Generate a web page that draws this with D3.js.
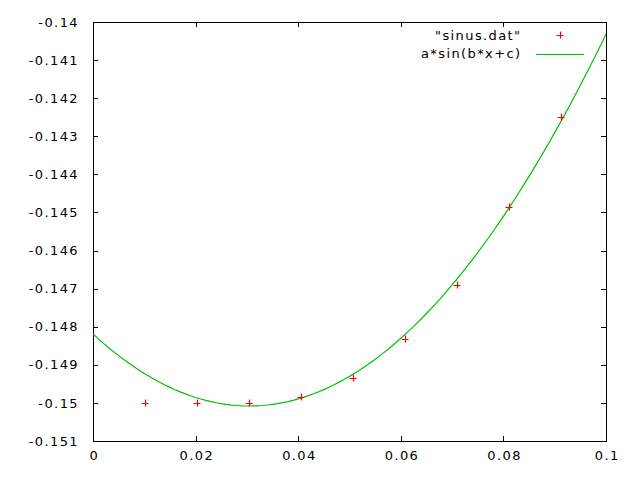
<!DOCTYPE html>
<html>
<head>
<meta charset="utf-8">
<script src="https://cdn.jsdelivr.net/npm/d3@7"></script>
<style>
  html, body { margin: 0; padding: 0; background: #fff; }
  svg { display: block; }
  text { font-family: "DejaVu Sans", sans-serif; font-size: 13px; fill: #000; letter-spacing: 1.4px; }
</style>
</head>
<body>
<script>
// Data points read from "sinus.dat"
const xValues = [0.0101, 0.0203, 0.0304, 0.0405, 0.0507, 0.0608, 0.0709, 0.0811, 0.0912];
const yValues = [-0.15001, -0.14999, -0.15001, -0.149837, -0.149354, -0.14833, -0.146913, -0.144849, -0.142486];

// Fitted parameters of a*sin(b*x+c)
const fitA = 0.150081;
const fitB = 5.2154;
const fitC = -1.7297;

// Axis ticks
const xTicks = [0, 0.02, 0.04, 0.06, 0.08, 0.1];
const yTicks = [-0.14, -0.141, -0.142, -0.143, -0.144, -0.145, -0.146, -0.147, -0.148, -0.149, -0.15, -0.151];
const xTickLabels = ["0", "0.02", "0.04", "0.06", "0.08", "0.1"];
const yTickLabels = ["-0.14", "-0.141", "-0.142", "-0.143", "-0.144", "-0.145", "-0.146", "-0.147", "-0.148", "-0.149", "-0.15", "-0.151"];

const legendLabels = ["\"sinus.dat\"", "a*sin(b*x+c)"];

const W = 640, H = 480;
const mLeft = 93, mRight = 606, mTop = 22, mBottom = 441;

const svg = d3.select("body").append("svg").attr("width", W).attr("height", H);

const x = d3.scaleLinear().domain([0, 0.1]).range([mLeft, mRight]);
const y = d3.scaleLinear().domain([-0.151, -0.14]).range([mBottom, mTop]);

svg.append("clipPath").attr("id", "clip").append("rect")
  .attr("x", mLeft).attr("y", mTop).attr("width", mRight - mLeft).attr("height", mBottom - mTop);

const tickLen = 5;

const gx = svg.append("g").attr("transform", `translate(0,${mBottom})`)
  .call(d3.axisBottom(x).tickValues(xTicks).tickSize(-tickLen).tickPadding(10)
    .tickFormat((d, i) => xTickLabels[i]));
const gxTop = svg.append("g").attr("transform", `translate(0,${mTop})`)
  .call(d3.axisTop(x).tickValues(xTicks).tickSize(-tickLen).tickFormat(""));
const gy = svg.append("g").attr("transform", `translate(${mLeft},0)`)
  .call(d3.axisLeft(y).tickValues(yTicks).tickSize(-tickLen).tickPadding(14)
    .tickFormat((d, i) => yTickLabels[i]));
const gyR = svg.append("g").attr("transform", `translate(${mRight},0)`)
  .call(d3.axisRight(y).tickValues(yTicks).tickSize(-tickLen).tickFormat(""));

[gx, gxTop, gy, gyR].forEach(g => {
  g.select(".domain").remove();
  g.selectAll("line").attr("stroke", "#000").attr("stroke-width", 1).attr("shape-rendering", "crispEdges");
  g.selectAll("text").attr("font-family", null).attr("font-size", null).attr("fill", "#000");
});
gx.selectAll("text").attr("dx", "0.7px");

svg.append("rect").attr("x", mLeft + 0.5).attr("y", mTop + 0.5)
  .attr("width", mRight - mLeft).attr("height", mBottom - mTop)
  .attr("fill", "none").attr("stroke", "#000").attr("stroke-width", 1)
  .attr("shape-rendering", "crispEdges");

const samples = d3.range(0, 101).map(i => 0.1 * i / 100);
const line = d3.line().x(d => x(d)).y(d => y(fitA * Math.sin(fitB * d + fitC)));
svg.append("path").datum(samples).attr("clip-path", "url(#clip)")
  .attr("d", line).attr("fill", "none").attr("stroke", "#00c000").attr("stroke-width", 1.2);

const ps = 3.5;
const pts = svg.append("g").attr("stroke", "#ff0000").attr("stroke-width", 1.2);
xValues.forEach((xv, i) => {
  const cx = Math.round(x(xv)), cy = Math.round(y(yValues[i]));
  pts.append("path").attr("d", `M${cx - ps},${cy + 0.5}H${cx + ps}M${cx + 0.5},${cy - ps}V${cy + ps}`);
});

const legX = 521.5;
const leg = svg.append("g");
leg.append("text").attr("x", legX).attr("y", 35).attr("text-anchor", "end").attr("dy", "0.35em").text(legendLabels[0]);
leg.append("path").attr("d", `M${560 - ps},35.5H${560 + ps}M560.5,${35 - ps}V${35 + ps}`)
  .attr("stroke", "#ff0000").attr("stroke-width", 1.2);
leg.append("text").attr("x", legX).attr("y", 53).attr("text-anchor", "end").attr("dy", "0.35em").text(legendLabels[1]);
leg.append("line").attr("x1", 536).attr("x2", 584).attr("y1", 54.5).attr("y2", 54.5)
  .attr("stroke", "#00c000").attr("stroke-width", 1.2);
</script>
</body>
</html>
